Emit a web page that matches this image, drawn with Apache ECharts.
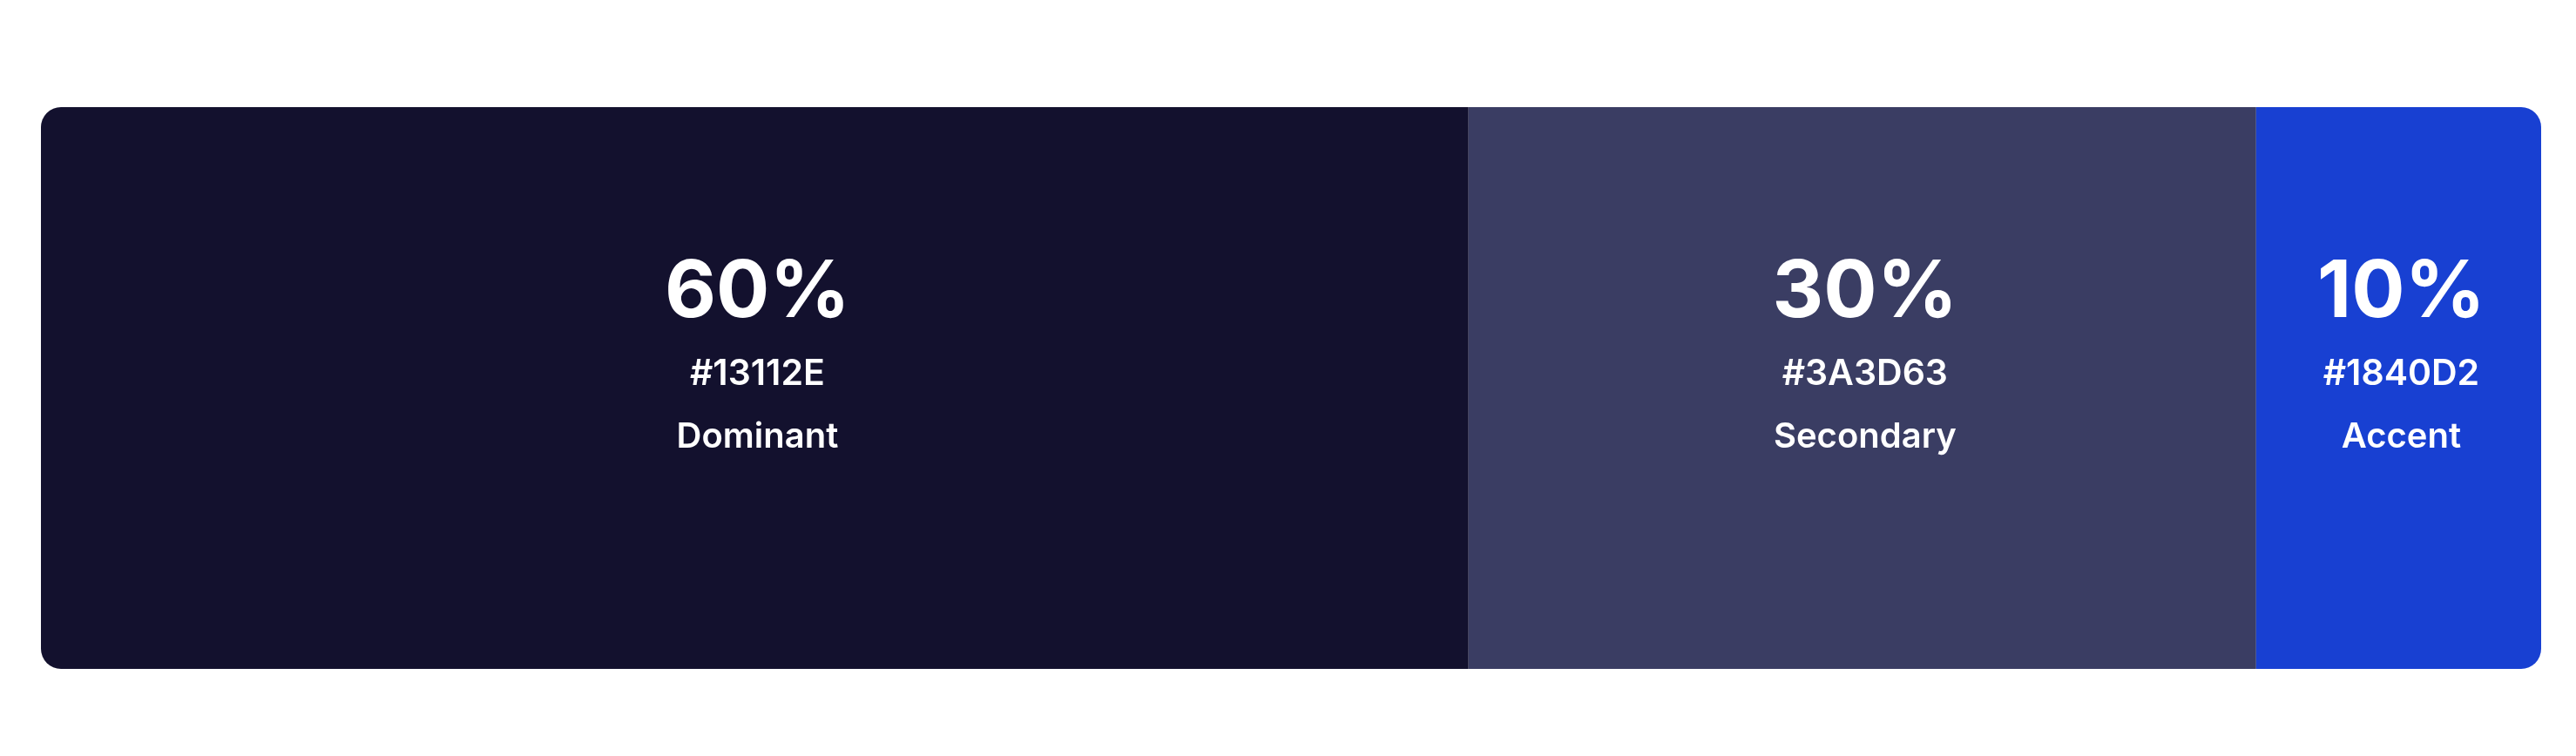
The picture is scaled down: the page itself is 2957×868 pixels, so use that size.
<!DOCTYPE html>
<html>
<head>
<meta charset="utf-8">
<script src="https://cdn.jsdelivr.net/npm/echarts@6/dist/echarts.min.js"></script>
<style>
html,body{margin:0;padding:0;background:#ffffff;}
#chart{width:2957px;height:868px;}
</style>
</head>
<body>
<div id="chart"></div>
<script>
// Data
const names = ['Dominant', 'Secondary', 'Accent'];
const shareLabels = ['60%', '30%', '10%'];
const hexCodes = ['#13112E', '#3A3D63', '#1840D2'];
// Displayed segment lengths (share of the full bar width, as drawn)
const segmentLengths = [57.1, 31.5, 11.4];

const chart = echarts.init(document.getElementById('chart'), null, {renderer: 'canvas'});
const R = 23;

const series = names.map((n, i) => ({
  name: n,
  type: 'bar',
  stack: 'total',
  barWidth: '100%',
  data: [segmentLengths[i]],
  itemStyle: {
    color: hexCodes[i],
    borderRadius: i === 0 ? [R, 0, 0, R] : (i === names.length - 1 ? [0, R, R, 0] : 0)
  },
  label: {
    show: true,
    position: 'inside',
    offset: [3, -37],
    formatter: () => '{p|' + shareLabels[i] + '}\n{h|' + hexCodes[i] + '}\n{n|' + n + '}',
    rich: {
      p: {fontFamily: 'Inter', fontWeight: 700, fontSize: 91, color: '#ffffff', lineHeight: 110, align: 'center'},
      h: {fontFamily: 'Inter', fontWeight: 600, fontSize: 41, color: '#ffffff', lineHeight: 76, align: 'center'},
      n: {fontFamily: 'Inter', fontWeight: 600, fontSize: 40, color: '#ffffff', lineHeight: 68, align: 'center'}
    }
  },
  emphasis: {disabled: true}
}));

chart.setOption({
  animation: false,
  backgroundColor: '#ffffff',
  grid: {left: 47, right: 40, top: 123, bottom: 100, containLabel: false},
  xAxis: {type: 'value', min: 0, max: 100, show: false},
  yAxis: {type: 'category', data: ['palette'], show: false},
  series: series
});
</script>
</body>
</html>
